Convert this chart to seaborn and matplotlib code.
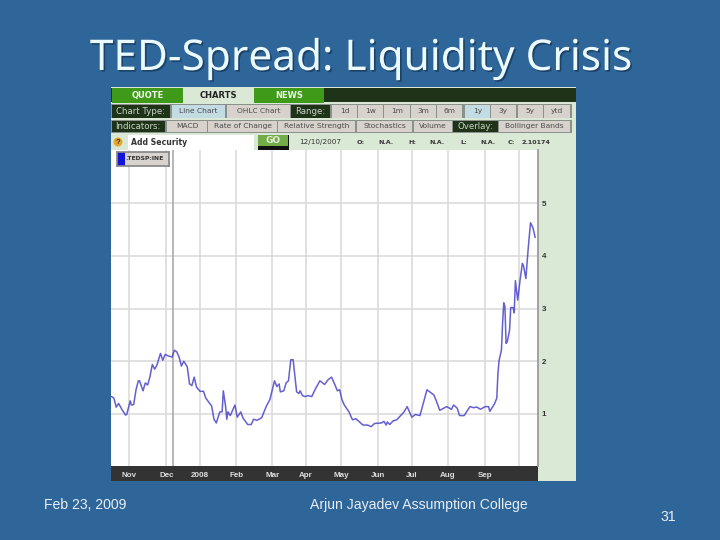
"""TED spread slide: quote widget screenshot redrawn with seaborn"""
import pandas as pd
import matplotlib.pyplot as plt
import matplotlib.patheffects as pe
from matplotlib.patches import Rectangle, Circle
import seaborn as sns

# values (days counted from 2007-11-01, spread in points)
days = [-15, -13, -11, -9, -6, -3, -2, 1, 2, 4, 6, 8, 9, 12, 14, 16, 18, 20, 22, 24,
        27, 29, 31, 34, 37, 39, 41, 43, 45, 47, 50, 52, 54, 56, 58, 61, 64, 66, 69, 71,
        73, 75, 78, 80, 81, 83, 84, 85, 87, 91, 93, 96, 98, 102, 105, 107, 110, 114, 118, 121,
        125, 127, 129, 130, 133, 135, 137, 139, 141, 144, 146, 147, 149, 151, 154, 157, 160, 164, 168, 171,
        174, 177, 179, 181, 183, 185, 189, 192, 195, 201, 205, 208, 211, 217, 219, 221, 222, 224, 227, 230,
        233, 236, 239, 243, 246, 250, 256, 262, 264, 267, 273, 277, 279, 282, 284, 288, 290, 293, 296, 299,
        302, 306, 309, 310, 314, 316, 317, 318, 320, 321, 322, 323, 324, 325, 327, 328, 330, 331, 332, 334,
        336, 338, 339, 341, 343, 345, 347, 349]
spread = [1.33, 1.30, 1.13, 1.20, 1.08, 0.98, 0.99, 1.25, 1.17, 1.18, 1.46, 1.63, 1.63, 1.44, 1.59, 1.55, 1.71, 1.94, 1.85, 1.93,
          2.15, 2.02, 2.13, 2.10, 2.08, 2.21, 2.18, 2.08, 1.91, 2.00, 1.90, 1.57, 1.54, 1.70, 1.51, 1.43, 1.43, 1.30, 1.21, 1.15,
          0.90, 0.83, 1.04, 1.04, 1.44, 1.14, 0.90, 1.04, 0.97, 1.17, 0.94, 1.04, 0.92, 0.80, 0.80, 0.90, 0.88, 0.93, 1.15, 1.27,
          1.63, 1.52, 1.57, 1.42, 1.44, 1.59, 1.63, 2.03, 2.03, 1.42, 1.39, 1.44, 1.35, 1.33, 1.35, 1.33, 1.47, 1.63, 1.56, 1.65,
          1.70, 1.55, 1.44, 1.46, 1.27, 1.17, 1.04, 0.89, 0.91, 0.79, 0.79, 0.76, 0.82, 0.83, 0.86, 0.79, 0.85, 0.80, 0.87, 0.89,
          0.96, 1.03, 1.14, 0.94, 0.99, 0.97, 1.46, 1.36, 1.25, 1.07, 1.14, 1.09, 1.17, 1.11, 0.97, 0.97, 1.04, 1.14, 1.12, 1.13,
          1.09, 1.14, 1.14, 1.05, 1.19, 1.30, 1.77, 2.02, 2.21, 2.72, 3.11, 3.04, 2.34, 2.37, 2.59, 3.02, 3.02, 2.92, 3.53, 3.16,
          3.54, 3.86, 3.81, 3.57, 4.14, 4.63, 4.54, 4.35]

month_dates = ["2007-11-01", "2007-12-03", "2008-01-01", "2008-02-01", "2008-03-03", "2008-04-01",
               "2008-05-01", "2008-06-02", "2008-07-01", "2008-08-01", "2008-09-02", "2008-10-01"]
month_labels = ["Nov", "Dec", "2008", "Feb", "Mar", "Apr", "May", "Jun", "Jul", "Aug", "Sep", ""]
y_ticks = [1, 2, 3, 4, 5]

BG = "#2f6699"
DARK = "#1f3319"
PANEL = "#d9e9d5"
GREY_BTN = "#d8d2cc"
BLUE_BTN = "#c3dbe3"
WIDGET_FONT = "DejaVu Sans"

# (label, left, right) in screenshot pixels
row_two = [("Chart Type:", 111.5, 170, DARK), ("Line Chart", 172, 225, BLUE_BTN), ("OHLC Chart", 227, 290, GREY_BTN),
           ("Range:", 291, 330, DARK), ("1d", 332, 357, GREY_BTN), ("1w", 358, 383, GREY_BTN), ("1m", 384, 410, GREY_BTN),
           ("3m", 411, 436, GREY_BTN), ("6m", 437, 462, GREY_BTN), ("1y", 465, 490, BLUE_BTN), ("3y", 491, 516, GREY_BTN),
           ("5y", 518, 543, GREY_BTN), ("ytd", 544, 570, GREY_BTN)]
row_three = [("Indicators:", 111.5, 165, DARK), ("MACD", 167, 207, GREY_BTN), ("Rate of Change", 208, 277, GREY_BTN),
             ("Relative Strength", 278, 355, GREY_BTN), ("Stochastics", 357, 412, GREY_BTN), ("Volume", 414, 452, GREY_BTN),
             ("Overlay:", 453, 498, DARK), ("Bollinger Bands", 499, 570, GREY_BTN)]
tabs = [("QUOTE", 111.5, 183, "#3f9a1a", "#eef5e8", 88), ("CHARTS", 183, 254, PANEL, "#222222", 87), ("NEWS", 254, 324, "#3f9a1a", "#eef5e8", 88)]
quote_info = [("12/10/2007", 299, False), ("O:", 357, True), ("N.A.", 378, True), ("H:", 408, True), ("N.A.", 429, True),
              ("L:", 460, True), ("N.A.", 480, True), ("C:", 508, True), ("2.10174", 522, True)]

sns.set_theme(style="white")
plt.rcParams["font.family"] = ["Liberation Sans", "DejaVu Sans"]

fig = plt.figure(figsize=(7.2, 5.4), dpi=100, facecolor=BG)

# overlay in pixel coordinates for the slide text and the widget chrome
bg = fig.add_axes([0, 0, 1, 1])
bg.set_xlim(0, 720)
bg.set_ylim(540, 0)
bg.axis("off")


def box(x0, y0, x1, y1, color, z=1):
    bg.add_patch(Rectangle((x0, y0), x1 - x0, y1 - y0, facecolor=color, edgecolor="none", zorder=z))


box(111, 87, 576, 481, PANEL)
box(111, 88, 576, 102, DARK, 2)
box(111, 466, 538, 481, "#333333", 2)

for label, x0, x1, color, text_color, top in tabs:
    box(x0, top, x1, 102.5, color, 3)
    bg.text((x0 + x1) / 2, 95.5, label, color=text_color, fontsize=6, fontweight="bold",
            family=WIDGET_FONT, ha="center", va="center", zorder=4)

for row, y0, y1 in ((row_two, 104, 118), (row_three, 120, 132.5)):
    box(111, y0, 572, y1, "#8a918a", 2)
    for label, x0, x1, color in row:
        box(x0, y0 + 0.5, x1, y1 - 0.5, color, 3)
        is_dark = color == DARK
        bg.text((x0 + x1) / 2, (y0 + y1) / 2, label, color="#c9d6c4" if is_dark else "#4a4a4a",
                fontsize=6.2 if is_dark else 5.4, family=WIDGET_FONT, ha="center", va="center", zorder=4)

bg.add_patch(Circle((118, 142), 4.5, facecolor="#e8a52c", edgecolor="none", zorder=3))
bg.text(118, 142, "?", color="#333333", fontsize=5.5, fontweight="bold", ha="center", va="center", zorder=4)
box(128, 135, 254, 149.5, "white", 3)
bg.text(131, 142.5, "Add Security", color="#333333", fontsize=5.6, fontweight="bold", family=WIDGET_FONT, va="center", zorder=4)
box(258, 135, 289, 150, "#111111", 3)
box(258, 135, 288, 146, "#74ad48", 4)
bg.text(273, 140.5, "GO", color="#e6f0dc", fontsize=6.5, fontweight="bold", family=WIDGET_FONT, ha="center", va="center", zorder=5)
for label, x, heavy in quote_info:
    bg.text(x, 142, label, color="#333333", fontsize=4.6 if heavy else 5.2, fontweight="bold" if heavy else "normal",
            family=WIDGET_FONT, va="center", zorder=4)

title = bg.text(361, 70, "TED-Spread: Liquidity Crisis", color="#eafaff", fontsize=30.5, family="Noto Sans",
                ha="center", va="baseline", zorder=5)
title.set_path_effects([pe.withSimplePatchShadow(offset=(1.2, -1.2), shadow_rgbFace="#173a5c", alpha=0.8)])
bg.text(44, 505, "Feb 23, 2009", color="#e8eef4", fontsize=10.1, va="center")
bg.text(419, 505, "Arjun Jayadev Assumption College", color="#e8eef4", fontsize=10.1, ha="center", va="center")
bg.text(668.5, 517, "31", color="#e8eef4", fontsize=10.1, ha="center", va="center")

# the chart itself
ax = fig.add_axes([111 / 720, 1 - 466 / 540, (537.5 - 111) / 720, (466 - 150) / 540])
ax.set_facecolor("white")

start = pd.Timestamp("2007-11-01")
df = pd.DataFrame({"date": start + pd.to_timedelta(days, unit="D"), "spread": spread})
sns.lineplot(data=df, x="date", y="spread", color="#4a44c8", linewidth=1.1, alpha=0.85, ax=ax, zorder=3)

ax.set_xlim(start + pd.Timedelta(days=-15.5), start + pd.Timedelta(days=351))
ax.set_ylim(0.013, 6.01)
ax.set_xticks(pd.to_datetime(month_dates))
ax.set_xticklabels(month_labels, color="#dddddd", fontsize=5.8, fontweight="bold")
ax.set_yticks(y_ticks)
ax.yaxis.tick_right()
ax.tick_params(axis="x", length=0, pad=4)
ax.tick_params(axis="y", length=0, pad=3, labelsize=5.8, labelcolor="#333333")
for lab in ax.get_yticklabels():
    lab.set_fontweight("bold")
ax.set_xlabel("")
ax.set_ylabel("")
ax.grid(True, color="#d8d8d8", linewidth=1.1)
ax.set_axisbelow(True)
ax.axvline(pd.Timestamp("2007-12-09"), color="#aaaaaa", linewidth=1.2, zorder=2)
for side in ("top", "left", "bottom"):
    ax.spines[side].set_visible(False)
ax.spines["right"].set_color("#999999")

# series tag in the corner of the chart
tag = fig.add_axes([117 / 720, 1 - 166 / 540, 52 / 720, 14 / 540])
tag.set_facecolor("#d8d3cf")
tag.set_xticks([])
tag.set_yticks([])
tag.set_xlim(0, 52)
tag.set_ylim(0, 14)
tag.add_patch(Rectangle((0, 0), 8, 14, facecolor="#1414d8", edgecolor="none"))
tag.text(8.5, 7, ".TEDSP:INE", color="#333333", fontsize=4.4, fontweight="bold", family=WIDGET_FONT, va="center")
for spine in tag.spines.values():
    spine.set_color("#888888")

fig.savefig("out.png", dpi=100, facecolor=BG)
plt.close(fig)
